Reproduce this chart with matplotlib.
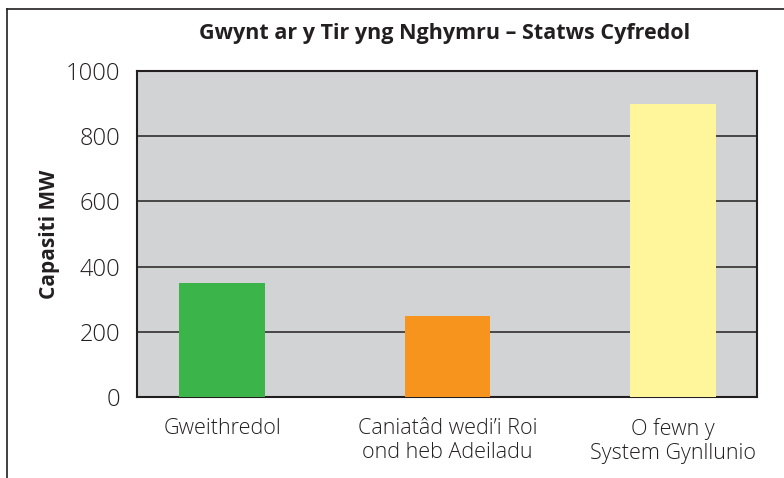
import matplotlib.pyplot as plt
from matplotlib.lines import Line2D

categories = ["Gweithredol", "Caniatâd wedi’i Roi\nond heb Adeiladu", "O fewn y\nSystem Gynllunio"]
capacity_mw = [350, 250, 900]
bar_colors = ["#3bb54a", "#f7941e", "#fff59a"]
yticks = [0, 200, 400, 600, 800, 1000]

plt.rcParams['font.family'] = ['Open Sans', 'DejaVu Sans']

fig = plt.figure(figsize=(7.84, 4.78), dpi=100)
ax = fig.add_axes([137 / 784, 1 - 397 / 478, 620 / 784, 326 / 478])
ax.set_facecolor("#d1d3d4")

xs = range(len(categories))
ax.bar(xs, capacity_mw, width=0.38, color=bar_colors, zorder=3)
ax.set_xlim(-0.378, 2.373)
ax.set_ylim(0, 1000)
ax.set_yticks(yticks)
ax.set_yticklabels([str(v) for v in yticks], fontsize=17, fontweight='light', color="#231f20")
ax.set_xticks(list(xs))
ax.set_xticklabels(categories, fontsize=15.5, fontweight='light', color="#231f20", linespacing=1.2)
ax.tick_params(length=0)
ax.tick_params(axis='y', pad=12)
ax.tick_params(axis='x', pad=15)
ax.grid(axis='y', color="#231f20", linewidth=1.1, zorder=1)
for s in ax.spines.values():
    s.set_color("#231f20")
    s.set_linewidth(1.5)

ax.set_ylabel("Capasiti MW", fontsize=15, fontweight='bold', color="#231f20", labelpad=4)
fig.text(445 / 784, 1 - 33 / 478, "Gwynt ar y Tir yng Nghymru – Statws Cyfredol",
         ha='center', va='center', fontsize=15.5, fontweight='bold', color="#231f20")

# outer frame (top and left only visible)
fig.add_artist(Line2D([7 / 784, 1], [1 - 9 / 478, 1 - 9 / 478], color="#231f20", linewidth=1.2))
fig.add_artist(Line2D([7 / 784, 7 / 784], [0, 1 - 9 / 478], color="#231f20", linewidth=1.2))

fig.savefig("out.png", dpi=100)
